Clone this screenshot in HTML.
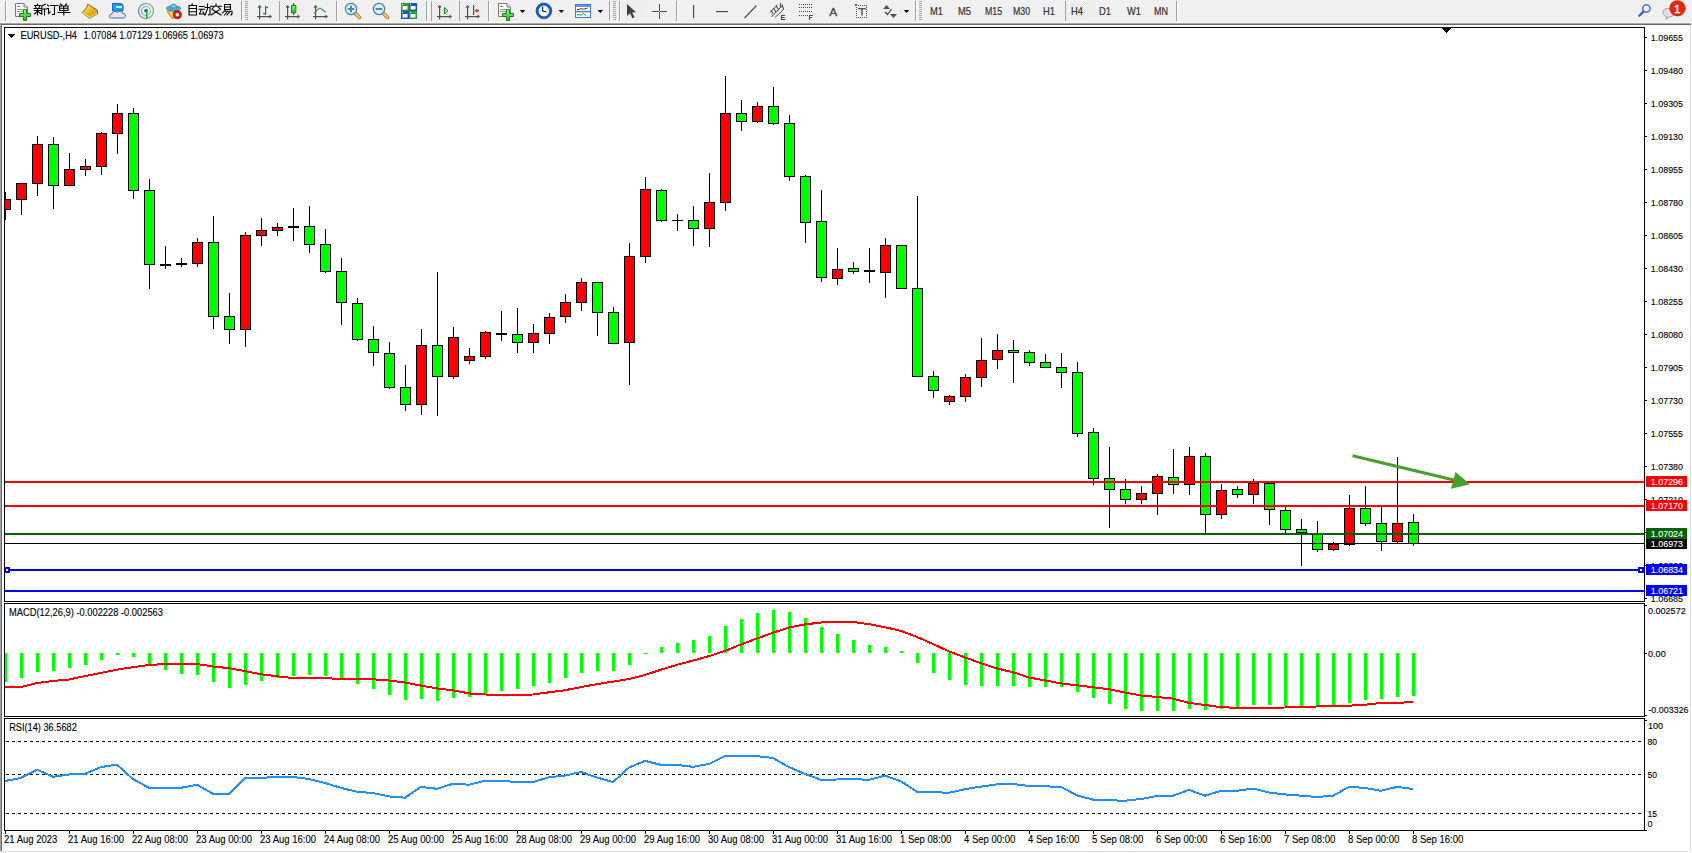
<!DOCTYPE html>
<html><head><meta charset="utf-8"><title>MT4</title>
<style>
html,body{margin:0;padding:0;width:1692px;height:853px;overflow:hidden;background:#fff}
svg{display:block}
text{font-family:"Liberation Sans",sans-serif}
</style></head><body>
<svg width="1692" height="853" viewBox="0 0 1692 853">
<rect x="0" y="0" width="1692" height="853" fill="#ffffff"/>
<rect x="0" y="0" width="1692" height="23" fill="#f0f0f0"/>
<rect x="0" y="22" width="1691" height="1" fill="#f7f7f7"/>
<rect x="0" y="23" width="1691" height="1" fill="#a8a8a8"/>
<rect x="0" y="24" width="1691" height="1" fill="#6a6a6a"/>
<rect x="0" y="23" width="1" height="828" fill="#a0a0a0"/>
<rect x="1" y="24" width="1" height="827" fill="#6a6a6a"/>
<rect x="1690" y="25" width="1" height="827" fill="#e3e3e3"/>
<rect x="0" y="851" width="1691" height="1" fill="#e3e3e3"/>
<g shape-rendering="crispEdges">
<clipPath id="cm"><rect x="5" y="28" width="1639" height="573"/></clipPath>
<clipPath id="cmacd"><rect x="5" y="604" width="1639" height="112"/></clipPath>
<clipPath id="crsi"><rect x="5" y="719" width="1639" height="111"/></clipPath>
<g clip-path="url(#cm)">
<rect x="5" y="192" width="1" height="28" fill="#000"/>
<rect x="0" y="199" width="11" height="11" fill="#000"/>
<rect x="1" y="200" width="9" height="9" fill="#ff0000"/>
<rect x="21" y="183" width="1" height="32" fill="#000"/>
<rect x="16" y="183" width="11" height="17" fill="#000"/>
<rect x="17" y="184" width="9" height="15" fill="#ff0000"/>
<rect x="37" y="136" width="1" height="60" fill="#000"/>
<rect x="32" y="144" width="11" height="40" fill="#000"/>
<rect x="33" y="145" width="9" height="38" fill="#ff0000"/>
<rect x="53" y="137" width="1" height="72" fill="#000"/>
<rect x="48" y="144" width="11" height="42" fill="#000"/>
<rect x="49" y="145" width="9" height="40" fill="#00ff00"/>
<rect x="69" y="153" width="1" height="33" fill="#000"/>
<rect x="64" y="169" width="11" height="17" fill="#000"/>
<rect x="65" y="170" width="9" height="15" fill="#ff0000"/>
<rect x="85" y="159" width="1" height="17" fill="#000"/>
<rect x="80" y="166" width="11" height="4" fill="#000"/>
<rect x="81" y="167" width="9" height="2" fill="#ff0000"/>
<rect x="101" y="132" width="1" height="43" fill="#000"/>
<rect x="96" y="133" width="11" height="34" fill="#000"/>
<rect x="97" y="134" width="9" height="32" fill="#ff0000"/>
<rect x="117" y="104" width="1" height="50" fill="#000"/>
<rect x="112" y="113" width="11" height="21" fill="#000"/>
<rect x="113" y="114" width="9" height="19" fill="#ff0000"/>
<rect x="133" y="108" width="1" height="91" fill="#000"/>
<rect x="128" y="113" width="11" height="78" fill="#000"/>
<rect x="129" y="114" width="9" height="76" fill="#00ff00"/>
<rect x="149" y="179" width="1" height="110" fill="#000"/>
<rect x="144" y="190" width="11" height="75" fill="#000"/>
<rect x="145" y="191" width="9" height="73" fill="#00ff00"/>
<rect x="165" y="246" width="1" height="23" fill="#000"/>
<rect x="160" y="264" width="11" height="2" fill="#000"/>
<rect x="181" y="258" width="1" height="9" fill="#000"/>
<rect x="176" y="263" width="11" height="2" fill="#000"/>
<rect x="197" y="238" width="1" height="29" fill="#000"/>
<rect x="192" y="242" width="11" height="22" fill="#000"/>
<rect x="193" y="243" width="9" height="20" fill="#ff0000"/>
<rect x="213" y="216" width="1" height="113" fill="#000"/>
<rect x="208" y="242" width="11" height="75" fill="#000"/>
<rect x="209" y="243" width="9" height="73" fill="#00ff00"/>
<rect x="229" y="293" width="1" height="51" fill="#000"/>
<rect x="224" y="316" width="11" height="14" fill="#000"/>
<rect x="225" y="317" width="9" height="12" fill="#00ff00"/>
<rect x="245" y="232" width="1" height="115" fill="#000"/>
<rect x="240" y="235" width="11" height="95" fill="#000"/>
<rect x="241" y="236" width="9" height="93" fill="#ff0000"/>
<rect x="261" y="218" width="1" height="28" fill="#000"/>
<rect x="256" y="230" width="11" height="6" fill="#000"/>
<rect x="257" y="231" width="9" height="4" fill="#ff0000"/>
<rect x="277" y="223" width="1" height="13" fill="#000"/>
<rect x="272" y="227" width="11" height="4" fill="#000"/>
<rect x="273" y="228" width="9" height="2" fill="#ff0000"/>
<rect x="293" y="208" width="1" height="33" fill="#000"/>
<rect x="288" y="226" width="11" height="2" fill="#000"/>
<rect x="309" y="206" width="1" height="47" fill="#000"/>
<rect x="304" y="226" width="11" height="19" fill="#000"/>
<rect x="305" y="227" width="9" height="17" fill="#00ff00"/>
<rect x="325" y="229" width="1" height="44" fill="#000"/>
<rect x="320" y="244" width="11" height="28" fill="#000"/>
<rect x="321" y="245" width="9" height="26" fill="#00ff00"/>
<rect x="341" y="258" width="1" height="67" fill="#000"/>
<rect x="336" y="271" width="11" height="32" fill="#000"/>
<rect x="337" y="272" width="9" height="30" fill="#00ff00"/>
<rect x="357" y="298" width="1" height="43" fill="#000"/>
<rect x="352" y="303" width="11" height="37" fill="#000"/>
<rect x="353" y="304" width="9" height="35" fill="#00ff00"/>
<rect x="373" y="326" width="1" height="40" fill="#000"/>
<rect x="368" y="339" width="11" height="14" fill="#000"/>
<rect x="369" y="340" width="9" height="12" fill="#00ff00"/>
<rect x="389" y="342" width="1" height="47" fill="#000"/>
<rect x="384" y="353" width="11" height="35" fill="#000"/>
<rect x="385" y="354" width="9" height="33" fill="#00ff00"/>
<rect x="405" y="365" width="1" height="46" fill="#000"/>
<rect x="400" y="387" width="11" height="18" fill="#000"/>
<rect x="401" y="388" width="9" height="16" fill="#00ff00"/>
<rect x="421" y="329" width="1" height="86" fill="#000"/>
<rect x="416" y="345" width="11" height="60" fill="#000"/>
<rect x="417" y="346" width="9" height="58" fill="#ff0000"/>
<rect x="437" y="272" width="1" height="144" fill="#000"/>
<rect x="432" y="345" width="11" height="32" fill="#000"/>
<rect x="433" y="346" width="9" height="30" fill="#00ff00"/>
<rect x="453" y="327" width="1" height="52" fill="#000"/>
<rect x="448" y="337" width="11" height="40" fill="#000"/>
<rect x="449" y="338" width="9" height="38" fill="#ff0000"/>
<rect x="469" y="348" width="1" height="16" fill="#000"/>
<rect x="464" y="356" width="11" height="5" fill="#000"/>
<rect x="465" y="357" width="9" height="3" fill="#ff0000"/>
<rect x="485" y="331" width="1" height="28" fill="#000"/>
<rect x="480" y="332" width="11" height="25" fill="#000"/>
<rect x="481" y="333" width="9" height="23" fill="#ff0000"/>
<rect x="501" y="311" width="1" height="30" fill="#000"/>
<rect x="496" y="333" width="11" height="2" fill="#000"/>
<rect x="517" y="308" width="1" height="45" fill="#000"/>
<rect x="512" y="334" width="11" height="9" fill="#000"/>
<rect x="513" y="335" width="9" height="7" fill="#00ff00"/>
<rect x="533" y="324" width="1" height="29" fill="#000"/>
<rect x="528" y="333" width="11" height="10" fill="#000"/>
<rect x="529" y="334" width="9" height="8" fill="#ff0000"/>
<rect x="549" y="313" width="1" height="31" fill="#000"/>
<rect x="544" y="317" width="11" height="17" fill="#000"/>
<rect x="545" y="318" width="9" height="15" fill="#ff0000"/>
<rect x="565" y="294" width="1" height="29" fill="#000"/>
<rect x="560" y="302" width="11" height="15" fill="#000"/>
<rect x="561" y="303" width="9" height="13" fill="#ff0000"/>
<rect x="581" y="278" width="1" height="33" fill="#000"/>
<rect x="576" y="282" width="11" height="21" fill="#000"/>
<rect x="577" y="283" width="9" height="19" fill="#ff0000"/>
<rect x="597" y="282" width="1" height="54" fill="#000"/>
<rect x="592" y="282" width="11" height="31" fill="#000"/>
<rect x="593" y="283" width="9" height="29" fill="#00ff00"/>
<rect x="613" y="307" width="1" height="37" fill="#000"/>
<rect x="608" y="312" width="11" height="32" fill="#000"/>
<rect x="609" y="313" width="9" height="30" fill="#00ff00"/>
<rect x="629" y="243" width="1" height="142" fill="#000"/>
<rect x="624" y="256" width="11" height="87" fill="#000"/>
<rect x="625" y="257" width="9" height="85" fill="#ff0000"/>
<rect x="645" y="177" width="1" height="86" fill="#000"/>
<rect x="640" y="189" width="11" height="68" fill="#000"/>
<rect x="641" y="190" width="9" height="66" fill="#ff0000"/>
<rect x="661" y="189" width="1" height="33" fill="#000"/>
<rect x="656" y="190" width="11" height="31" fill="#000"/>
<rect x="657" y="191" width="9" height="29" fill="#00ff00"/>
<rect x="677" y="214" width="1" height="17" fill="#000"/>
<rect x="672" y="220" width="11" height="1" fill="#000"/>
<rect x="693" y="206" width="1" height="40" fill="#000"/>
<rect x="688" y="220" width="11" height="9" fill="#000"/>
<rect x="689" y="221" width="9" height="7" fill="#00ff00"/>
<rect x="709" y="173" width="1" height="74" fill="#000"/>
<rect x="704" y="202" width="11" height="27" fill="#000"/>
<rect x="705" y="203" width="9" height="25" fill="#ff0000"/>
<rect x="725" y="76" width="1" height="135" fill="#000"/>
<rect x="720" y="113" width="11" height="90" fill="#000"/>
<rect x="721" y="114" width="9" height="88" fill="#ff0000"/>
<rect x="741" y="100" width="1" height="31" fill="#000"/>
<rect x="736" y="113" width="11" height="9" fill="#000"/>
<rect x="737" y="114" width="9" height="7" fill="#00ff00"/>
<rect x="757" y="102" width="1" height="21" fill="#000"/>
<rect x="752" y="106" width="11" height="16" fill="#000"/>
<rect x="753" y="107" width="9" height="14" fill="#ff0000"/>
<rect x="773" y="87" width="1" height="38" fill="#000"/>
<rect x="768" y="106" width="11" height="18" fill="#000"/>
<rect x="769" y="107" width="9" height="16" fill="#00ff00"/>
<rect x="789" y="115" width="1" height="66" fill="#000"/>
<rect x="784" y="123" width="11" height="54" fill="#000"/>
<rect x="785" y="124" width="9" height="52" fill="#00ff00"/>
<rect x="805" y="175" width="1" height="68" fill="#000"/>
<rect x="800" y="176" width="11" height="47" fill="#000"/>
<rect x="801" y="177" width="9" height="45" fill="#00ff00"/>
<rect x="821" y="190" width="1" height="92" fill="#000"/>
<rect x="816" y="221" width="11" height="57" fill="#000"/>
<rect x="817" y="222" width="9" height="55" fill="#00ff00"/>
<rect x="837" y="248" width="1" height="37" fill="#000"/>
<rect x="832" y="269" width="11" height="10" fill="#000"/>
<rect x="833" y="270" width="9" height="8" fill="#ff0000"/>
<rect x="853" y="262" width="1" height="12" fill="#000"/>
<rect x="848" y="268" width="11" height="4" fill="#000"/>
<rect x="849" y="269" width="9" height="2" fill="#00ff00"/>
<rect x="869" y="248" width="1" height="35" fill="#000"/>
<rect x="864" y="270" width="11" height="2" fill="#000"/>
<rect x="885" y="238" width="1" height="60" fill="#000"/>
<rect x="880" y="245" width="11" height="28" fill="#000"/>
<rect x="881" y="246" width="9" height="26" fill="#ff0000"/>
<rect x="901" y="245" width="1" height="44" fill="#000"/>
<rect x="896" y="245" width="11" height="44" fill="#000"/>
<rect x="897" y="246" width="9" height="42" fill="#00ff00"/>
<rect x="917" y="196" width="1" height="181" fill="#000"/>
<rect x="912" y="288" width="11" height="89" fill="#000"/>
<rect x="913" y="289" width="9" height="87" fill="#00ff00"/>
<rect x="933" y="371" width="1" height="27" fill="#000"/>
<rect x="928" y="376" width="11" height="15" fill="#000"/>
<rect x="929" y="377" width="9" height="13" fill="#00ff00"/>
<rect x="949" y="395" width="1" height="10" fill="#000"/>
<rect x="944" y="396" width="11" height="6" fill="#000"/>
<rect x="945" y="397" width="9" height="4" fill="#ff0000"/>
<rect x="965" y="374" width="1" height="28" fill="#000"/>
<rect x="960" y="377" width="11" height="20" fill="#000"/>
<rect x="961" y="378" width="9" height="18" fill="#ff0000"/>
<rect x="981" y="338" width="1" height="49" fill="#000"/>
<rect x="976" y="360" width="11" height="18" fill="#000"/>
<rect x="977" y="361" width="9" height="16" fill="#ff0000"/>
<rect x="997" y="334" width="1" height="35" fill="#000"/>
<rect x="992" y="350" width="11" height="10" fill="#000"/>
<rect x="993" y="351" width="9" height="8" fill="#ff0000"/>
<rect x="1013" y="340" width="1" height="43" fill="#000"/>
<rect x="1008" y="350" width="11" height="3" fill="#000"/>
<rect x="1009" y="351" width="9" height="1" fill="#00ff00"/>
<rect x="1029" y="350" width="1" height="16" fill="#000"/>
<rect x="1024" y="352" width="11" height="11" fill="#000"/>
<rect x="1025" y="353" width="9" height="9" fill="#00ff00"/>
<rect x="1045" y="354" width="1" height="14" fill="#000"/>
<rect x="1040" y="362" width="11" height="6" fill="#000"/>
<rect x="1041" y="363" width="9" height="4" fill="#00ff00"/>
<rect x="1061" y="353" width="1" height="35" fill="#000"/>
<rect x="1056" y="367" width="11" height="6" fill="#000"/>
<rect x="1057" y="368" width="9" height="4" fill="#00ff00"/>
<rect x="1077" y="362" width="1" height="75" fill="#000"/>
<rect x="1072" y="372" width="11" height="62" fill="#000"/>
<rect x="1073" y="373" width="9" height="60" fill="#00ff00"/>
<rect x="1093" y="428" width="1" height="57" fill="#000"/>
<rect x="1088" y="432" width="11" height="47" fill="#000"/>
<rect x="1089" y="433" width="9" height="45" fill="#00ff00"/>
<rect x="1109" y="447" width="1" height="81" fill="#000"/>
<rect x="1104" y="478" width="11" height="12" fill="#000"/>
<rect x="1105" y="479" width="9" height="10" fill="#00ff00"/>
<rect x="1125" y="479" width="1" height="25" fill="#000"/>
<rect x="1120" y="489" width="11" height="11" fill="#000"/>
<rect x="1121" y="490" width="9" height="9" fill="#00ff00"/>
<rect x="1141" y="486" width="1" height="18" fill="#000"/>
<rect x="1136" y="493" width="11" height="7" fill="#000"/>
<rect x="1137" y="494" width="9" height="5" fill="#ff0000"/>
<rect x="1157" y="474" width="1" height="41" fill="#000"/>
<rect x="1152" y="476" width="11" height="18" fill="#000"/>
<rect x="1153" y="477" width="9" height="16" fill="#ff0000"/>
<rect x="1173" y="449" width="1" height="45" fill="#000"/>
<rect x="1168" y="477" width="11" height="8" fill="#000"/>
<rect x="1169" y="478" width="9" height="6" fill="#00ff00"/>
<rect x="1189" y="447" width="1" height="48" fill="#000"/>
<rect x="1184" y="456" width="11" height="29" fill="#000"/>
<rect x="1185" y="457" width="9" height="27" fill="#ff0000"/>
<rect x="1205" y="453" width="1" height="81" fill="#000"/>
<rect x="1200" y="456" width="11" height="59" fill="#000"/>
<rect x="1201" y="457" width="9" height="57" fill="#00ff00"/>
<rect x="1221" y="484" width="1" height="35" fill="#000"/>
<rect x="1216" y="490" width="11" height="25" fill="#000"/>
<rect x="1217" y="491" width="9" height="23" fill="#ff0000"/>
<rect x="1237" y="486" width="1" height="12" fill="#000"/>
<rect x="1232" y="489" width="11" height="6" fill="#000"/>
<rect x="1233" y="490" width="9" height="4" fill="#00ff00"/>
<rect x="1253" y="479" width="1" height="25" fill="#000"/>
<rect x="1248" y="483" width="11" height="12" fill="#000"/>
<rect x="1249" y="484" width="9" height="10" fill="#ff0000"/>
<rect x="1269" y="483" width="1" height="42" fill="#000"/>
<rect x="1264" y="483" width="11" height="27" fill="#000"/>
<rect x="1265" y="484" width="9" height="25" fill="#00ff00"/>
<rect x="1285" y="507" width="1" height="26" fill="#000"/>
<rect x="1280" y="510" width="11" height="20" fill="#000"/>
<rect x="1281" y="511" width="9" height="18" fill="#00ff00"/>
<rect x="1301" y="519" width="1" height="47" fill="#000"/>
<rect x="1296" y="529" width="11" height="4" fill="#000"/>
<rect x="1297" y="530" width="9" height="2" fill="#00ff00"/>
<rect x="1317" y="521" width="1" height="31" fill="#000"/>
<rect x="1312" y="534" width="11" height="16" fill="#000"/>
<rect x="1313" y="535" width="9" height="14" fill="#00ff00"/>
<rect x="1333" y="542" width="1" height="9" fill="#000"/>
<rect x="1328" y="544" width="11" height="6" fill="#000"/>
<rect x="1329" y="545" width="9" height="4" fill="#ff0000"/>
<rect x="1349" y="495" width="1" height="51" fill="#000"/>
<rect x="1344" y="508" width="11" height="37" fill="#000"/>
<rect x="1345" y="509" width="9" height="35" fill="#ff0000"/>
<rect x="1365" y="486" width="1" height="40" fill="#000"/>
<rect x="1360" y="508" width="11" height="16" fill="#000"/>
<rect x="1361" y="509" width="9" height="14" fill="#00ff00"/>
<rect x="1381" y="507" width="1" height="44" fill="#000"/>
<rect x="1376" y="523" width="11" height="19" fill="#000"/>
<rect x="1377" y="524" width="9" height="17" fill="#00ff00"/>
<rect x="1397" y="457" width="1" height="87" fill="#000"/>
<rect x="1392" y="523" width="11" height="19" fill="#000"/>
<rect x="1393" y="524" width="9" height="17" fill="#ff0000"/>
<rect x="1413" y="514" width="1" height="32" fill="#000"/>
<rect x="1408" y="522" width="11" height="22" fill="#000"/>
<rect x="1409" y="523" width="9" height="20" fill="#00ff00"/>
<rect x="5" y="481" width="1639" height="2" fill="#ff0000"/>
<rect x="5" y="505" width="1639" height="2" fill="#ff0000"/>
<rect x="5" y="533" width="1639" height="2" fill="#006400"/>
<rect x="5" y="543" width="1639" height="1" fill="#000000"/>
<rect x="5" y="569" width="1639" height="2" fill="#0000ff"/>
<rect x="5" y="590" width="1639" height="2" fill="#0000ff"/>
<rect x="4" y="567" width="6" height="6" fill="#0000ff"/>
<rect x="6" y="569" width="2" height="2" fill="#ffffff"/>
<rect x="1638" y="567" width="6" height="6" fill="#0000ff"/>
<rect x="1640" y="569" width="2" height="2" fill="#ffffff"/>
</g>
<g shape-rendering="crispEdges">
<rect x="1442" y="28" width="9" height="1" fill="#000"/>
<rect x="1443" y="29" width="7" height="1" fill="#000"/>
<rect x="1444" y="30" width="5" height="1" fill="#000"/>
<rect x="1445" y="31" width="3" height="1" fill="#000"/>
<rect x="1446" y="32" width="1" height="1" fill="#000"/>
</g>
<rect x="4" y="27" width="1641" height="1" fill="#000"/>
<rect x="4" y="601" width="1641" height="1" fill="#000"/>
<rect x="4" y="27" width="1" height="575" fill="#000"/>
<rect x="1644" y="27" width="1" height="575" fill="#000"/>
<rect x="4" y="603" width="1641" height="1" fill="#000"/>
<rect x="4" y="716" width="1641" height="1" fill="#000"/>
<rect x="4" y="603" width="1" height="114" fill="#000"/>
<rect x="1644" y="603" width="1" height="114" fill="#000"/>
<rect x="4" y="718" width="1641" height="1" fill="#000"/>
<rect x="4" y="830" width="1641" height="1" fill="#000"/>
<rect x="4" y="718" width="1" height="113" fill="#000"/>
<rect x="1644" y="718" width="1" height="113" fill="#000"/>
</g>
<rect x="1645" y="37" width="2" height="1" fill="#000"/>
<text x="1650.8" y="41" font-size="9.8" fill="#000" stroke="#000" stroke-width="0.12" textLength="32.2" lengthAdjust="spacingAndGlyphs">1.09655</text>
<rect x="1645" y="70" width="2" height="1" fill="#000"/>
<text x="1650.8" y="74" font-size="9.8" fill="#000" stroke="#000" stroke-width="0.12" textLength="32.2" lengthAdjust="spacingAndGlyphs">1.09480</text>
<rect x="1645" y="103" width="2" height="1" fill="#000"/>
<text x="1650.8" y="107" font-size="9.8" fill="#000" stroke="#000" stroke-width="0.12" textLength="32.2" lengthAdjust="spacingAndGlyphs">1.09305</text>
<rect x="1645" y="136" width="2" height="1" fill="#000"/>
<text x="1650.8" y="140" font-size="9.8" fill="#000" stroke="#000" stroke-width="0.12" textLength="32.2" lengthAdjust="spacingAndGlyphs">1.09130</text>
<rect x="1645" y="169" width="2" height="1" fill="#000"/>
<text x="1650.8" y="173" font-size="9.8" fill="#000" stroke="#000" stroke-width="0.12" textLength="32.2" lengthAdjust="spacingAndGlyphs">1.08955</text>
<rect x="1645" y="202" width="2" height="1" fill="#000"/>
<text x="1650.8" y="206" font-size="9.8" fill="#000" stroke="#000" stroke-width="0.12" textLength="32.2" lengthAdjust="spacingAndGlyphs">1.08780</text>
<rect x="1645" y="235" width="2" height="1" fill="#000"/>
<text x="1650.8" y="239" font-size="9.8" fill="#000" stroke="#000" stroke-width="0.12" textLength="32.2" lengthAdjust="spacingAndGlyphs">1.08605</text>
<rect x="1645" y="268" width="2" height="1" fill="#000"/>
<text x="1650.8" y="272" font-size="9.8" fill="#000" stroke="#000" stroke-width="0.12" textLength="32.2" lengthAdjust="spacingAndGlyphs">1.08430</text>
<rect x="1645" y="301" width="2" height="1" fill="#000"/>
<text x="1650.8" y="305" font-size="9.8" fill="#000" stroke="#000" stroke-width="0.12" textLength="32.2" lengthAdjust="spacingAndGlyphs">1.08255</text>
<rect x="1645" y="334" width="2" height="1" fill="#000"/>
<text x="1650.8" y="338" font-size="9.8" fill="#000" stroke="#000" stroke-width="0.12" textLength="32.2" lengthAdjust="spacingAndGlyphs">1.08080</text>
<rect x="1645" y="367" width="2" height="1" fill="#000"/>
<text x="1650.8" y="371" font-size="9.8" fill="#000" stroke="#000" stroke-width="0.12" textLength="32.2" lengthAdjust="spacingAndGlyphs">1.07905</text>
<rect x="1645" y="400" width="2" height="1" fill="#000"/>
<text x="1650.8" y="404" font-size="9.8" fill="#000" stroke="#000" stroke-width="0.12" textLength="32.2" lengthAdjust="spacingAndGlyphs">1.07730</text>
<rect x="1645" y="433" width="2" height="1" fill="#000"/>
<text x="1650.8" y="437" font-size="9.8" fill="#000" stroke="#000" stroke-width="0.12" textLength="32.2" lengthAdjust="spacingAndGlyphs">1.07555</text>
<rect x="1645" y="466" width="2" height="1" fill="#000"/>
<text x="1650.8" y="470" font-size="9.8" fill="#000" stroke="#000" stroke-width="0.12" textLength="32.2" lengthAdjust="spacingAndGlyphs">1.07380</text>
<rect x="1645" y="499" width="2" height="1" fill="#000"/>
<text x="1650.8" y="503" font-size="9.8" fill="#000" stroke="#000" stroke-width="0.12" textLength="32.2" lengthAdjust="spacingAndGlyphs">1.07210</text>
<rect x="1645" y="532" width="2" height="1" fill="#000"/>
<text x="1650.8" y="536" font-size="9.8" fill="#000" stroke="#000" stroke-width="0.12" textLength="32.2" lengthAdjust="spacingAndGlyphs">1.07035</text>
<rect x="1645" y="565" width="2" height="1" fill="#000"/>
<text x="1650.8" y="569" font-size="9.8" fill="#000" stroke="#000" stroke-width="0.12" textLength="32.2" lengthAdjust="spacingAndGlyphs">1.06860</text>
<rect x="1645" y="598" width="2" height="1" fill="#000"/>
<text x="1650.8" y="602" font-size="9.8" fill="#000" stroke="#000" stroke-width="0.12" textLength="32.2" lengthAdjust="spacingAndGlyphs">1.06685</text>
<rect x="1646" y="476" width="41" height="11" fill="#ff0000"/>
<text x="1650.8" y="485" font-size="9.8" fill="#fff" stroke="#fff" stroke-width="0.12" textLength="32.2" lengthAdjust="spacingAndGlyphs">1.07296</text>
<rect x="1646" y="500" width="41" height="11" fill="#ff0000"/>
<text x="1650.8" y="509" font-size="9.8" fill="#fff" stroke="#fff" stroke-width="0.12" textLength="32.2" lengthAdjust="spacingAndGlyphs">1.07170</text>
<rect x="1646" y="528" width="41" height="11" fill="#006400"/>
<text x="1650.8" y="537" font-size="9.8" fill="#fff" stroke="#fff" stroke-width="0.12" textLength="32.2" lengthAdjust="spacingAndGlyphs">1.07024</text>
<rect x="1646" y="539" width="41" height="10" fill="#000"/>
<text x="1650.8" y="547" font-size="9.8" fill="#fff" stroke="#fff" stroke-width="0.12" textLength="32.2" lengthAdjust="spacingAndGlyphs">1.06973</text>
<rect x="1646" y="564" width="41" height="11" fill="#0000ff"/>
<text x="1650.8" y="573" font-size="9.8" fill="#fff" stroke="#fff" stroke-width="0.12" textLength="32.2" lengthAdjust="spacingAndGlyphs">1.06834</text>
<rect x="1646" y="585" width="41" height="11" fill="#0000ff"/>
<text x="1650.8" y="594" font-size="9.8" fill="#fff" stroke="#fff" stroke-width="0.12" textLength="32.2" lengthAdjust="spacingAndGlyphs">1.06721</text>
<g shape-rendering="crispEdges">
<rect x="8" y="34" width="7" height="1" fill="#000"/>
<rect x="9" y="35" width="5" height="1" fill="#000"/>
<rect x="10" y="36" width="3" height="1" fill="#000"/>
<rect x="11" y="37" width="1" height="1" fill="#000"/>
</g>
<text x="20.5" y="39" font-size="10.2" fill="#000" stroke="#000" stroke-width="0.12" textLength="56.5" lengthAdjust="spacingAndGlyphs">EURUSD-,H4</text>
<text x="83.5" y="39" font-size="10.2" fill="#000" stroke="#000" stroke-width="0.12" textLength="140.0" lengthAdjust="spacingAndGlyphs">1.07084 1.07129 1.06965 1.06973</text>
<g fill="#4a9e2a" stroke="none">
<line x1="1352.5" y1="455.8" x2="1458" y2="481" stroke="#4a9e2a" stroke-width="3"/>
<path d="M1455.5 472 L1470 484.3 L1451 488.7 Z"/>
</g>
<g clip-path="url(#cmacd)" shape-rendering="crispEdges">
<rect x="4" y="653" width="3" height="29" fill="#00ff00"/>
<rect x="20" y="653" width="3" height="25" fill="#00ff00"/>
<rect x="36" y="653" width="3" height="19" fill="#00ff00"/>
<rect x="52" y="653" width="3" height="18" fill="#00ff00"/>
<rect x="68" y="653" width="3" height="15" fill="#00ff00"/>
<rect x="84" y="653" width="3" height="12" fill="#00ff00"/>
<rect x="100" y="653" width="3" height="7" fill="#00ff00"/>
<rect x="116" y="653" width="3" height="2" fill="#00ff00"/>
<rect x="132" y="653" width="3" height="4" fill="#00ff00"/>
<rect x="148" y="653" width="3" height="11" fill="#00ff00"/>
<rect x="164" y="653" width="3" height="17" fill="#00ff00"/>
<rect x="180" y="653" width="3" height="21" fill="#00ff00"/>
<rect x="196" y="653" width="3" height="22" fill="#00ff00"/>
<rect x="212" y="653" width="3" height="29" fill="#00ff00"/>
<rect x="228" y="653" width="3" height="35" fill="#00ff00"/>
<rect x="244" y="653" width="3" height="32" fill="#00ff00"/>
<rect x="260" y="653" width="3" height="28" fill="#00ff00"/>
<rect x="276" y="653" width="3" height="25" fill="#00ff00"/>
<rect x="292" y="653" width="3" height="23" fill="#00ff00"/>
<rect x="308" y="653" width="3" height="22" fill="#00ff00"/>
<rect x="324" y="653" width="3" height="23" fill="#00ff00"/>
<rect x="340" y="653" width="3" height="25" fill="#00ff00"/>
<rect x="356" y="653" width="3" height="31" fill="#00ff00"/>
<rect x="372" y="653" width="3" height="36" fill="#00ff00"/>
<rect x="388" y="653" width="3" height="42" fill="#00ff00"/>
<rect x="404" y="653" width="3" height="47" fill="#00ff00"/>
<rect x="420" y="653" width="3" height="46" fill="#00ff00"/>
<rect x="436" y="653" width="3" height="48" fill="#00ff00"/>
<rect x="452" y="653" width="3" height="45" fill="#00ff00"/>
<rect x="468" y="653" width="3" height="44" fill="#00ff00"/>
<rect x="484" y="653" width="3" height="41" fill="#00ff00"/>
<rect x="500" y="653" width="3" height="38" fill="#00ff00"/>
<rect x="516" y="653" width="3" height="36" fill="#00ff00"/>
<rect x="532" y="653" width="3" height="33" fill="#00ff00"/>
<rect x="548" y="653" width="3" height="30" fill="#00ff00"/>
<rect x="564" y="653" width="3" height="25" fill="#00ff00"/>
<rect x="580" y="653" width="3" height="20" fill="#00ff00"/>
<rect x="596" y="653" width="3" height="18" fill="#00ff00"/>
<rect x="612" y="653" width="3" height="18" fill="#00ff00"/>
<rect x="628" y="653" width="3" height="12" fill="#00ff00"/>
<rect x="644" y="653" width="3" height="1" fill="#00ff00"/>
<rect x="660" y="647" width="3" height="6" fill="#00ff00"/>
<rect x="676" y="643" width="3" height="10" fill="#00ff00"/>
<rect x="692" y="640" width="3" height="13" fill="#00ff00"/>
<rect x="708" y="636" width="3" height="17" fill="#00ff00"/>
<rect x="724" y="626" width="3" height="27" fill="#00ff00"/>
<rect x="740" y="619" width="3" height="34" fill="#00ff00"/>
<rect x="756" y="613" width="3" height="40" fill="#00ff00"/>
<rect x="772" y="610" width="3" height="43" fill="#00ff00"/>
<rect x="788" y="612" width="3" height="41" fill="#00ff00"/>
<rect x="804" y="618" width="3" height="35" fill="#00ff00"/>
<rect x="820" y="627" width="3" height="26" fill="#00ff00"/>
<rect x="836" y="634" width="3" height="19" fill="#00ff00"/>
<rect x="852" y="640" width="3" height="13" fill="#00ff00"/>
<rect x="868" y="645" width="3" height="8" fill="#00ff00"/>
<rect x="884" y="647" width="3" height="6" fill="#00ff00"/>
<rect x="900" y="651" width="3" height="2" fill="#00ff00"/>
<rect x="916" y="653" width="3" height="10" fill="#00ff00"/>
<rect x="932" y="653" width="3" height="20" fill="#00ff00"/>
<rect x="948" y="653" width="3" height="27" fill="#00ff00"/>
<rect x="964" y="653" width="3" height="32" fill="#00ff00"/>
<rect x="980" y="653" width="3" height="33" fill="#00ff00"/>
<rect x="996" y="653" width="3" height="33" fill="#00ff00"/>
<rect x="1012" y="653" width="3" height="33" fill="#00ff00"/>
<rect x="1028" y="653" width="3" height="34" fill="#00ff00"/>
<rect x="1044" y="653" width="3" height="34" fill="#00ff00"/>
<rect x="1060" y="653" width="3" height="34" fill="#00ff00"/>
<rect x="1076" y="653" width="3" height="39" fill="#00ff00"/>
<rect x="1092" y="653" width="3" height="45" fill="#00ff00"/>
<rect x="1108" y="653" width="3" height="51" fill="#00ff00"/>
<rect x="1124" y="653" width="3" height="56" fill="#00ff00"/>
<rect x="1140" y="653" width="3" height="58" fill="#00ff00"/>
<rect x="1156" y="653" width="3" height="58" fill="#00ff00"/>
<rect x="1172" y="653" width="3" height="58" fill="#00ff00"/>
<rect x="1188" y="653" width="3" height="56" fill="#00ff00"/>
<rect x="1204" y="653" width="3" height="57" fill="#00ff00"/>
<rect x="1220" y="653" width="3" height="56" fill="#00ff00"/>
<rect x="1236" y="653" width="3" height="54" fill="#00ff00"/>
<rect x="1252" y="653" width="3" height="52" fill="#00ff00"/>
<rect x="1268" y="653" width="3" height="52" fill="#00ff00"/>
<rect x="1284" y="653" width="3" height="53" fill="#00ff00"/>
<rect x="1300" y="653" width="3" height="53" fill="#00ff00"/>
<rect x="1316" y="653" width="3" height="53" fill="#00ff00"/>
<rect x="1332" y="653" width="3" height="52" fill="#00ff00"/>
<rect x="1348" y="653" width="3" height="50" fill="#00ff00"/>
<rect x="1364" y="653" width="3" height="47" fill="#00ff00"/>
<rect x="1380" y="653" width="3" height="46" fill="#00ff00"/>
<rect x="1396" y="653" width="3" height="44" fill="#00ff00"/>
<rect x="1412" y="653" width="3" height="43" fill="#00ff00"/>
</g>
<g clip-path="url(#cmacd)">
<polyline points="5,687 21,687 37,683 53,681 69,679.5 85,676 101,673 117,669.6 133,667.2 149,665 165,664 181,664 197,664 213,666.5 229,668.2 245,671.1 261,674.3 277,676.3 293,678 309,678 325,678.2 341,678.9 357,678.9 373,679.3 389,680.5 405,682.5 421,685.6 437,688.4 453,690.3 469,693.4 485,694.5 501,694.9 517,694.9 533,694.5 549,692.3 565,690.2 581,687.1 597,684.1 613,681.6 629,679.1 645,674.9 661,669.7 677,664.8 693,660.6 709,656.1 725,650.9 741,644.4 757,638.5 773,632.7 789,627.5 805,624.4 821,622.5 837,621.9 853,622 869,624.2 885,627.2 901,631 917,637 933,644 949,651.5 965,657.4 981,663.2 997,668.4 1013,672.3 1029,677.5 1045,680.4 1061,683.4 1077,685.3 1093,687.3 1109,689.2 1125,692.5 1141,695.5 1157,697 1173,698.6 1189,702.9 1205,705 1221,707.2 1237,707.8 1253,707.8 1269,707.8 1285,707.5 1301,706.8 1317,706.5 1333,705.9 1349,705.7 1365,704.8 1381,702.9 1397,702.9 1413,702" fill="none" stroke="#ff0000" stroke-width="2" shape-rendering="crispEdges"/>
</g>
<text x="9" y="616" font-size="10.2" fill="#000" stroke="#000" stroke-width="0.12" textLength="154.0" lengthAdjust="spacingAndGlyphs">MACD(12,26,9) -0.002228 -0.002563</text>
<rect x="1645" y="605" width="2" height="1" fill="#000"/>
<rect x="1645" y="653" width="2" height="1" fill="#000"/>
<rect x="1645" y="715" width="2" height="1" fill="#000"/>
<text x="1648" y="614" font-size="9.4" fill="#000" stroke="#000" stroke-width="0.12" textLength="37.7" lengthAdjust="spacingAndGlyphs">0.002572</text>
<text x="1648" y="657" font-size="9.4" fill="#000" stroke="#000" stroke-width="0.12" textLength="17.7" lengthAdjust="spacingAndGlyphs">0.00</text>
<text x="1648.4" y="713" font-size="9.4" fill="#000" stroke="#000" stroke-width="0.12" textLength="40.2" lengthAdjust="spacingAndGlyphs">-0.003326</text>
<g shape-rendering="crispEdges">
<line x1="6" y1="741.5" x2="1644" y2="741.5" stroke="#000" stroke-width="1" stroke-dasharray="3,3"/>
<line x1="6" y1="774.5" x2="1644" y2="774.5" stroke="#000" stroke-width="1" stroke-dasharray="3,3"/>
<line x1="6" y1="813.5" x2="1644" y2="813.5" stroke="#000" stroke-width="1" stroke-dasharray="3,3"/>
</g>
<g clip-path="url(#crsi)">
<polyline points="5,781 21,777.9 37,769.7 53,776.8 69,774.5 85,773.8 101,767 117,764.7 133,779.2 149,787.8 165,787.8 181,787.8 197,784.7 213,793.8 229,793.8 245,778.2 261,777.9 277,776.9 293,776.9 309,779.1 325,783 341,787.9 357,791.8 373,793.1 389,796.4 405,797.7 421,786.9 437,788.8 453,783.7 469,784.7 485,780.8 501,780.8 517,782.1 533,782.1 549,777.2 565,775.6 581,772 597,777.5 613,782.1 629,767.5 645,760.9 661,764.9 677,764.9 693,766.8 709,763.9 725,756.1 741,756.1 757,756.1 773,758 789,767.1 805,773.9 821,779.8 837,779.5 853,779.1 869,779.8 885,775.6 901,781.4 917,791.8 933,792.1 949,792.8 965,789.2 981,786.6 997,784.4 1013,784 1029,786 1045,786.3 1061,786.9 1077,795.4 1093,799.6 1109,800.3 1125,800.7 1141,799 1157,796 1173,795.7 1189,789.9 1205,795.7 1221,790.8 1237,790.8 1253,788.6 1269,792.5 1285,794.4 1301,795.7 1317,797 1333,795.7 1349,786.9 1365,787.9 1381,790.8 1397,786.9 1413,789" fill="none" stroke="#1e90ff" stroke-width="2" shape-rendering="crispEdges"/>
</g>
<text x="9.2" y="731" font-size="10.2" fill="#000" stroke="#000" stroke-width="0.12" textLength="67.6" lengthAdjust="spacingAndGlyphs">RSI(14) 36.5682</text>
<rect x="1645" y="720" width="2" height="1" fill="#000"/>
<rect x="1645" y="830" width="2" height="1" fill="#000"/>
<text x="1648" y="729" font-size="9.4" fill="#000" stroke="#000" stroke-width="0.12" textLength="15.0" lengthAdjust="spacingAndGlyphs">100</text>
<text x="1647.5" y="745" font-size="9.4" fill="#000" stroke="#000" stroke-width="0.12" textLength="9.5" lengthAdjust="spacingAndGlyphs">80</text>
<text x="1647.5" y="778" font-size="9.4" fill="#000" stroke="#000" stroke-width="0.12" textLength="9.5" lengthAdjust="spacingAndGlyphs">50</text>
<text x="1647.5" y="817" font-size="9.4" fill="#000" stroke="#000" stroke-width="0.12" textLength="9.5" lengthAdjust="spacingAndGlyphs">15</text>
<text x="1647.5" y="827" font-size="9.4" fill="#000" stroke="#000" stroke-width="0.12" textLength="5.0" lengthAdjust="spacingAndGlyphs">0</text>
<rect x="5" y="831" width="1" height="3" fill="#000"/>
<text x="4" y="843" font-size="10.2" fill="#000" stroke="#000" stroke-width="0.12" textLength="53.4" lengthAdjust="spacingAndGlyphs">21 Aug 2023</text>
<rect x="69" y="831" width="1" height="3" fill="#000"/>
<text x="68" y="843" font-size="10.2" fill="#000" stroke="#000" stroke-width="0.12" textLength="56.0" lengthAdjust="spacingAndGlyphs">21 Aug 16:00</text>
<rect x="133" y="831" width="1" height="3" fill="#000"/>
<text x="132" y="843" font-size="10.2" fill="#000" stroke="#000" stroke-width="0.12" textLength="56.0" lengthAdjust="spacingAndGlyphs">22 Aug 08:00</text>
<rect x="197" y="831" width="1" height="3" fill="#000"/>
<text x="196" y="843" font-size="10.2" fill="#000" stroke="#000" stroke-width="0.12" textLength="56.0" lengthAdjust="spacingAndGlyphs">23 Aug 00:00</text>
<rect x="261" y="831" width="1" height="3" fill="#000"/>
<text x="260" y="843" font-size="10.2" fill="#000" stroke="#000" stroke-width="0.12" textLength="56.0" lengthAdjust="spacingAndGlyphs">23 Aug 16:00</text>
<rect x="325" y="831" width="1" height="3" fill="#000"/>
<text x="324" y="843" font-size="10.2" fill="#000" stroke="#000" stroke-width="0.12" textLength="56.0" lengthAdjust="spacingAndGlyphs">24 Aug 08:00</text>
<rect x="389" y="831" width="1" height="3" fill="#000"/>
<text x="388" y="843" font-size="10.2" fill="#000" stroke="#000" stroke-width="0.12" textLength="56.0" lengthAdjust="spacingAndGlyphs">25 Aug 00:00</text>
<rect x="453" y="831" width="1" height="3" fill="#000"/>
<text x="452" y="843" font-size="10.2" fill="#000" stroke="#000" stroke-width="0.12" textLength="56.0" lengthAdjust="spacingAndGlyphs">25 Aug 16:00</text>
<rect x="517" y="831" width="1" height="3" fill="#000"/>
<text x="516" y="843" font-size="10.2" fill="#000" stroke="#000" stroke-width="0.12" textLength="56.0" lengthAdjust="spacingAndGlyphs">28 Aug 08:00</text>
<rect x="581" y="831" width="1" height="3" fill="#000"/>
<text x="580" y="843" font-size="10.2" fill="#000" stroke="#000" stroke-width="0.12" textLength="56.0" lengthAdjust="spacingAndGlyphs">29 Aug 00:00</text>
<rect x="645" y="831" width="1" height="3" fill="#000"/>
<text x="644" y="843" font-size="10.2" fill="#000" stroke="#000" stroke-width="0.12" textLength="56.0" lengthAdjust="spacingAndGlyphs">29 Aug 16:00</text>
<rect x="709" y="831" width="1" height="3" fill="#000"/>
<text x="708" y="843" font-size="10.2" fill="#000" stroke="#000" stroke-width="0.12" textLength="56.0" lengthAdjust="spacingAndGlyphs">30 Aug 08:00</text>
<rect x="773" y="831" width="1" height="3" fill="#000"/>
<text x="772" y="843" font-size="10.2" fill="#000" stroke="#000" stroke-width="0.12" textLength="56.0" lengthAdjust="spacingAndGlyphs">31 Aug 00:00</text>
<rect x="837" y="831" width="1" height="3" fill="#000"/>
<text x="836" y="843" font-size="10.2" fill="#000" stroke="#000" stroke-width="0.12" textLength="56.0" lengthAdjust="spacingAndGlyphs">31 Aug 16:00</text>
<rect x="901" y="831" width="1" height="3" fill="#000"/>
<text x="900" y="843" font-size="10.2" fill="#000" stroke="#000" stroke-width="0.12" textLength="51.3" lengthAdjust="spacingAndGlyphs">1 Sep 08:00</text>
<rect x="965" y="831" width="1" height="3" fill="#000"/>
<text x="964" y="843" font-size="10.2" fill="#000" stroke="#000" stroke-width="0.12" textLength="51.3" lengthAdjust="spacingAndGlyphs">4 Sep 00:00</text>
<rect x="1029" y="831" width="1" height="3" fill="#000"/>
<text x="1028" y="843" font-size="10.2" fill="#000" stroke="#000" stroke-width="0.12" textLength="51.3" lengthAdjust="spacingAndGlyphs">4 Sep 16:00</text>
<rect x="1093" y="831" width="1" height="3" fill="#000"/>
<text x="1092" y="843" font-size="10.2" fill="#000" stroke="#000" stroke-width="0.12" textLength="51.3" lengthAdjust="spacingAndGlyphs">5 Sep 08:00</text>
<rect x="1157" y="831" width="1" height="3" fill="#000"/>
<text x="1156" y="843" font-size="10.2" fill="#000" stroke="#000" stroke-width="0.12" textLength="51.3" lengthAdjust="spacingAndGlyphs">6 Sep 00:00</text>
<rect x="1221" y="831" width="1" height="3" fill="#000"/>
<text x="1220" y="843" font-size="10.2" fill="#000" stroke="#000" stroke-width="0.12" textLength="51.3" lengthAdjust="spacingAndGlyphs">6 Sep 16:00</text>
<rect x="1285" y="831" width="1" height="3" fill="#000"/>
<text x="1284" y="843" font-size="10.2" fill="#000" stroke="#000" stroke-width="0.12" textLength="51.3" lengthAdjust="spacingAndGlyphs">7 Sep 08:00</text>
<rect x="1349" y="831" width="1" height="3" fill="#000"/>
<text x="1348" y="843" font-size="10.2" fill="#000" stroke="#000" stroke-width="0.12" textLength="51.3" lengthAdjust="spacingAndGlyphs">8 Sep 00:00</text>
<rect x="1413" y="831" width="1" height="3" fill="#000"/>
<text x="1412" y="843" font-size="10.2" fill="#000" stroke="#000" stroke-width="0.12" textLength="51.3" lengthAdjust="spacingAndGlyphs">8 Sep 16:00</text>
<defs><pattern id="chk" width="2" height="2" patternUnits="userSpaceOnUse"><rect width="2" height="2" fill="#f6f6f6"/><rect width="1" height="1" fill="#e6e6e6"/><rect x="1" y="1" width="1" height="1" fill="#e6e6e6"/></pattern><linearGradient id="gplus" x1="0" y1="0" x2="0" y2="1"><stop offset="0" stop-color="#9af29a"/><stop offset="1" stop-color="#1cb51c"/></linearGradient><linearGradient id="ggold" x1="0" y1="0" x2="1" y2="1"><stop offset="0" stop-color="#fff39a"/><stop offset="0.5" stop-color="#e8b820"/><stop offset="1" stop-color="#c88a10"/></linearGradient><radialGradient id="gclock"><stop offset="0.6" stop-color="#ffffff"/><stop offset="1" stop-color="#e8f0f8"/></radialGradient></defs>
<g id="tb">
<rect x="5" y="1" width="1" height="20" fill="#a0a0a0"/><rect x="6" y="1" width="1" height="20" fill="#ffffff"/>
<path d="M15.5 3.5 H24 L27.5 7 V16.5 H15.5 Z" fill="#fdfdfd" stroke="#7a7a7a" stroke-width="1"/>
<path d="M24 3.5 V7 H27.5" fill="#e0e0e0" stroke="#7a7a7a" stroke-width="1"/>
<rect x="17" y="6" width="3" height="1" fill="#808080"/><rect x="17" y="9" width="6" height="1" fill="#9a9a9a"/><rect x="17" y="11" width="6" height="1" fill="#9a9a9a"/>
<path d="M23.5 9.5 h3 v4 h4 v3 h-4 v4 h-3 v-4 h-4 v-3 h4 Z" fill="url(#gplus)" stroke="#0e8a0e" stroke-width="1"/>
<path d="M37.5 4 V5.5 M34.5 5.5 H40.5 M35.5 6.5 L36 7.5 M39.5 6.5 L39 7.5 M34 8.5 H41 M34.5 10.5 H40.5 M37.5 8.5 V15 M37 11.5 L34.5 14 M38 11.5 L40.5 13.5 M45.5 4.3 L41.8 5.8 V14.5 M41.8 9 H46.5 M44.5 9 V15 M47.5 5 L48.5 6 M47.5 8.5 H48.5 V13.5 L50 12 M50.5 5.5 H58 M54.5 5.5 V14.5 H52.5 M60.5 4 L61.5 5 M66.5 4 L65.5 5 M59.5 6 H68 V10.5 H59.5 Z M59.5 8.2 H68 M58 12.5 H70 M63.8 6 V15" fill="none" stroke="#000" stroke-width="1.1" stroke-linecap="square"/>
<path d="M87.8 4.2 L96.9 10 L97.8 13.3 L89.8 18.3 L82.2 12.7 L86.6 7.7 Z" fill="url(#ggold)" stroke="#9a5a08" stroke-width="1"/>
<path d="M83 13 L90 17.5 L97 13" fill="none" stroke="#f4e0a0" stroke-width="1"/>
<path d="M112.5 3.5 H121 L123 5 V11 H112.5 Z" fill="#1a9af0" stroke="#0a6ad0" stroke-width="1"/>
<rect x="116" y="6" width="6" height="2" fill="#e8f4ff"/>
<path d="M111 18 C108.5 18 109 13.5 112 14 C112 11.5 116 10.5 117.5 12.5 C119 10.5 123 11.5 122.5 13.5 C126 13 126.5 18 123.5 18 Z" fill="#dfe6f0" stroke="#4a6aa0" stroke-width="1"/>
<g fill="none" stroke-width="1.2">
<path d="M146 3.5 A7.5 7.5 0 0 0 146 18.5" stroke="#5a82d0"/><path d="M146 3.5 A7.5 7.5 0 0 1 146 18.5" stroke="#70b070"/>
<path d="M146 6.5 A4.5 4.5 0 0 0 146 15.5" stroke="#7aa0e0"/><path d="M146 6.5 A4.5 4.5 0 0 1 146 15.5" stroke="#90c890"/>
</g>
<circle cx="146" cy="10.8" r="1.8" fill="#1a50c0"/>
<rect x="146" y="11" width="1.5" height="7.5" fill="#22aa22"/>
<path d="M167 11 L178 11 L177 17 L172 18.5 Z" fill="#f0d040" stroke="#c09010" stroke-width="1"/>
<ellipse cx="173.5" cy="8.3" rx="7.2" ry="2.3" fill="#5ab4e8" stroke="#2a84b8" stroke-width="1"/>
<path d="M170 8 C170 3 177 3 177 8 Z" fill="#7cc8f0" stroke="#2a84b8" stroke-width="1"/>
<circle cx="177.3" cy="14.7" r="4" fill="#dd2200" stroke="#aa1100" stroke-width="1"/>
<rect x="175.8" y="13.2" width="3" height="3" fill="#fff"/>
<path d="M192.5 4 L191.5 5.2 M189 5.5 H196.5 V15 H189 Z M189 8.5 H196.5 M189 11.8 H196.5 M199.5 6.5 H204 M199 9.2 H204.5 M201.5 9.2 L199.5 14 H204 M203 12 L204.5 14.5 M205 7.5 H210 V14 L208.5 15 M207.5 4 V9 L205 15 M216 4 V5.5 M210.5 6.2 H221.5 M213.5 7.5 L212 9.2 M218.5 7.5 L220.5 9.2 M213 10 L221 15 M219 10 L211 15 M224.5 4.5 H230.5 V9.5 H224.5 Z M224.5 7 H230.5 M225 10.5 L222.5 12.8 M225.5 11.2 H232 V14 L231 15 M227.5 11.5 L224.5 15 M230 11.5 L227 15" fill="none" stroke="#000" stroke-width="1.1" stroke-linecap="square"/>
<rect x="241" y="1" width="1" height="20" fill="#a0a0a0"/><rect x="242" y="1" width="1" height="20" fill="#ffffff"/>
<rect x="245" y="1" width="3" height="1" fill="#a8a8a8"/>
<rect x="245" y="3" width="3" height="1" fill="#a8a8a8"/>
<rect x="245" y="5" width="3" height="1" fill="#a8a8a8"/>
<rect x="245" y="7" width="3" height="1" fill="#a8a8a8"/>
<rect x="245" y="9" width="3" height="1" fill="#a8a8a8"/>
<rect x="245" y="11" width="3" height="1" fill="#a8a8a8"/>
<rect x="245" y="13" width="3" height="1" fill="#a8a8a8"/>
<rect x="245" y="15" width="3" height="1" fill="#a8a8a8"/>
<rect x="245" y="17" width="3" height="1" fill="#a8a8a8"/>
<rect x="245" y="19" width="3" height="1" fill="#a8a8a8"/>
<g fill="#505050"><rect x="259" y="6" width="1.2" height="13.5"/><rect x="257" y="16" width="13.5" height="1.2"/><path d="M257.4 7.6 L259.6 5 L261.8 7.6 Z"/><path d="M269.5 14.4 L272 16.6 L269.5 18.8 Z"/></g>
<g fill="#118811"><rect x="265" y="6" width="1.2" height="9"/><rect x="265" y="6.8" width="3" height="1.1"/><rect x="263" y="13" width="2.5" height="1.1"/></g>
<rect x="279" y="1" width="1" height="20" fill="#a0a0a0"/><rect x="280" y="1" width="1" height="20" fill="#ffffff"/>
<rect x="280" y="1" width="24" height="20" fill="url(#chk)"/>
<g fill="#505050"><rect x="287" y="6" width="1.2" height="13.5"/><rect x="285" y="16" width="13.5" height="1.2"/><path d="M285.4 7.6 L287.6 5 L289.8 7.6 Z"/><path d="M297.5 14.4 L300 16.6 L297.5 18.8 Z"/></g>
<rect x="293" y="3" width="1.2" height="12" fill="#118811"/>
<rect x="291.5" y="5.5" width="4.3" height="7.3" fill="url(#gplus)" stroke="#0e8a0e" stroke-width="1"/>
<g fill="#505050"><rect x="315" y="6" width="1.2" height="13.5"/><rect x="313" y="16" width="13.5" height="1.2"/><path d="M313.4 7.6 L315.6 5 L317.8 7.6 Z"/><path d="M325.5 14.4 L328 16.6 L325.5 18.8 Z"/></g>
<path d="M314 13.7 C316.5 10.5 318.5 7.8 320.5 8.3 C322.5 8.8 323.5 11.5 325.8 12.2" fill="none" stroke="#2a9a2a" stroke-width="1.1"/>
<rect x="336" y="1" width="1" height="20" fill="#a0a0a0"/><rect x="337" y="1" width="1" height="20" fill="#ffffff"/>
<path d="M354.5 12.5 L359.5 17.5" stroke="#a87010" stroke-width="3.4" stroke-linecap="round"/>
<path d="M354.5 12.5 L359.5 17.5" stroke="#f0d050" stroke-width="1.8" stroke-linecap="round"/>
<circle cx="351" cy="9" r="5.6" fill="#dff0ff" stroke="#3a7ec0" stroke-width="1.2"/>
<rect x="347.7" y="8" width="6.6" height="2" fill="#4a8aaa"/>
<rect x="350" y="5.7" width="2" height="6.6" fill="#4a8aaa"/>
<path d="M382.5 12.5 L387.5 17.5" stroke="#a87010" stroke-width="3.4" stroke-linecap="round"/>
<path d="M382.5 12.5 L387.5 17.5" stroke="#f0d050" stroke-width="1.8" stroke-linecap="round"/>
<circle cx="379" cy="9" r="5.6" fill="#dff0ff" stroke="#3a7ec0" stroke-width="1.2"/>
<rect x="375.7" y="8" width="6.6" height="2" fill="#4a8aaa"/>
<rect x="401" y="3" width="8" height="8" fill="#2aa02a"/><rect x="402.5" y="6" width="5" height="3.5" fill="#ffffff"/><rect x="402" y="4" width="1" height="1" fill="#ffffff"/>
<rect x="409" y="3" width="8" height="8" fill="#1a50d0"/><rect x="410.5" y="6" width="5" height="3.5" fill="#ffffff"/><rect x="410" y="4" width="1" height="1" fill="#ffffff"/>
<rect x="401" y="11" width="8" height="8" fill="#1a50d0"/><rect x="402.5" y="14" width="5" height="3.5" fill="#ffffff"/><rect x="402" y="12" width="1" height="1" fill="#ffffff"/>
<rect x="409" y="11" width="8" height="8" fill="#2aa02a"/><rect x="410.5" y="14" width="5" height="3.5" fill="#ffffff"/><rect x="410" y="12" width="1" height="1" fill="#ffffff"/>
<rect x="426" y="1" width="1" height="20" fill="#a0a0a0"/><rect x="427" y="1" width="1" height="20" fill="#ffffff"/>
<rect x="431" y="1" width="1" height="20" fill="#a0a0a0"/><rect x="432" y="1" width="1" height="20" fill="#ffffff"/>
<rect x="432" y="1" width="24" height="20" fill="url(#chk)"/>
<g fill="#505050"><rect x="439" y="6" width="1.2" height="13.5"/><rect x="437" y="16" width="13.5" height="1.2"/><path d="M437.4 7.6 L439.6 5 L441.8 7.6 Z"/><path d="M449.5 14.4 L452 16.6 L449.5 18.8 Z"/></g>
<path d="M444.5 7.5 L448 10.8 L444.5 14 Z" fill="#b0f0b0" stroke="#118811" stroke-width="1"/>
<rect x="459" y="1" width="1" height="20" fill="#a0a0a0"/><rect x="460" y="1" width="1" height="20" fill="#ffffff"/>
<rect x="460" y="1" width="24" height="20" fill="url(#chk)"/>
<g fill="#505050"><rect x="467" y="6" width="1.2" height="13.5"/><rect x="465" y="16" width="13.5" height="1.2"/><path d="M465.4 7.6 L467.6 5 L469.8 7.6 Z"/><path d="M477.5 14.4 L480 16.6 L477.5 18.8 Z"/></g>
<rect x="473" y="5" width="1.2" height="10" fill="#1a5aa0"/>
<path d="M474.5 10.7 L477.5 8.5 V10 H479 V11.4 H477.5 V13 Z" fill="#e04010"/>
<rect x="488" y="1" width="1" height="20" fill="#a0a0a0"/><rect x="489" y="1" width="1" height="20" fill="#ffffff"/>
<path d="M498.5 3.5 H507 L510.5 7 V16.5 H498.5 Z" fill="#fdfdfd" stroke="#7a7a7a" stroke-width="1"/>
<path d="M507 3.5 V7 H510.5" fill="#e0e0e0" stroke="#7a7a7a" stroke-width="1"/>
<rect x="500" y="6" width="3" height="1" fill="#808080"/><rect x="500" y="9" width="6" height="1" fill="#9a9a9a"/><rect x="500" y="11" width="6" height="1" fill="#9a9a9a"/>
<path d="M506.5 9.5 h3 v4 h4 v3 h-4 v4 h-3 v-4 h-4 v-3 h4 Z" fill="url(#gplus)" stroke="#0e8a0e" stroke-width="1"/>
<path d="M519.8 10 H525.3 L522.55 13 Z" fill="#000"/>
<circle cx="543.9" cy="10.9" r="6.6" fill="url(#gclock)" stroke="#1560c0" stroke-width="2.6"/>
<circle cx="543.9" cy="10.9" r="7.9" fill="none" stroke="#0a3a8a" stroke-width="0.6"/>
<path d="M542.6 6.5 V11 L546.5 12" fill="none" stroke="#111" stroke-width="1.1"/>
<g fill="#9ab"><rect x="543.5" y="15.5" width="1" height="1"/><rect x="539.5" y="10.5" width="1" height="1"/><rect x="547.5" y="10.5" width="1" height="1"/></g>
<path d="M558.6 10 H564.1 L561.35 13 Z" fill="#000"/>
<rect x="575.5" y="4.5" width="15" height="13" fill="#ffffff" stroke="#3a7acc" stroke-width="1"/>
<rect x="576" y="5" width="14" height="2" fill="#5a9ae0"/><rect x="576" y="11" width="14" height="1.3" fill="#3a7acc"/>
<path d="M577 9.5 L579 9.5 L581 8.5 L583 9.2 L585 8.8 L587.5 8" fill="none" stroke="#a02010" stroke-width="1"/>
<path d="M577 15.3 L579 14.5 L581 15.3 L583.5 13.5 L586 15.5" fill="none" stroke="#1a9a1a" stroke-width="1"/>
<path d="M597.6 10 H603.1 L600.35 13 Z" fill="#000"/>
<rect x="609" y="1" width="1" height="20" fill="#a0a0a0"/><rect x="610" y="1" width="1" height="20" fill="#ffffff"/>
<rect x="613" y="1" width="3" height="1" fill="#a8a8a8"/>
<rect x="613" y="3" width="3" height="1" fill="#a8a8a8"/>
<rect x="613" y="5" width="3" height="1" fill="#a8a8a8"/>
<rect x="613" y="7" width="3" height="1" fill="#a8a8a8"/>
<rect x="613" y="9" width="3" height="1" fill="#a8a8a8"/>
<rect x="613" y="11" width="3" height="1" fill="#a8a8a8"/>
<rect x="613" y="13" width="3" height="1" fill="#a8a8a8"/>
<rect x="613" y="15" width="3" height="1" fill="#a8a8a8"/>
<rect x="613" y="17" width="3" height="1" fill="#a8a8a8"/>
<rect x="613" y="19" width="3" height="1" fill="#a8a8a8"/>
<rect x="619" y="1" width="1" height="20" fill="#a0a0a0"/><rect x="620" y="1" width="1" height="20" fill="#ffffff"/>
<rect x="621" y="1" width="24" height="20" fill="url(#chk)"/>
<path d="M627 4 L627 16 L630 13.3 L632.4 18.2 L634.6 17.2 L632.2 12.5 L636 12.3 Z" fill="#404040"/>
<g fill="#505050"><rect x="659" y="4" width="1" height="15"/><rect x="652" y="11" width="15" height="1"/></g>
<rect x="659" y="11" width="1" height="1" fill="#f0f0f0"/>
<rect x="676" y="1" width="1" height="20" fill="#a0a0a0"/><rect x="677" y="1" width="1" height="20" fill="#ffffff"/>
<rect x="693" y="5" width="1.2" height="13" fill="#4a4a4a"/>
<rect x="716" y="11" width="12" height="1.2" fill="#4a4a4a"/>
<path d="M744.5 18 L756.5 5.5" stroke="#4a4a4a" stroke-width="1.1"/>
<g stroke="#4a4a4a" stroke-width="1" fill="none"><path d="M770 12.5 L777.5 4.8 M771.5 17 L781.8 6 M775 17.5 L784 9"/><path d="M771 10 L773 14 M773.5 8 L776 12.5 M776 5.5 L779 10.5 M780.5 3 L780.5 8 M782 4.5 L783.5 9" stroke-width="1.1"/></g>
<g fill="#4a4a4a"><path d="M781 15 h4 v1 h-3 v1 h2.5 v1 h-2.5 v1 h3 v1 h-4 Z"/></g>
<path d="M799 4.5 H812" stroke="#4a4a4a" stroke-width="1" stroke-dasharray="1,1"/>
<path d="M799 7.5 H812" stroke="#4a4a4a" stroke-width="1" stroke-dasharray="1,1"/>
<path d="M799 11.5 H812" stroke="#4a4a4a" stroke-width="1" stroke-dasharray="1,1"/>
<path d="M799 15.5 H808" stroke="#4a4a4a" stroke-width="1" stroke-dasharray="1,1"/>
<g fill="#4a4a4a" shape-rendering="crispEdges"><rect x="809" y="15" width="1" height="5"/><rect x="809" y="15" width="4" height="1"/><rect x="809" y="17" width="3" height="1"/></g>
<text x="829.3" y="15.5" font-size="11.8" fill="#4a4a4a" stroke="#4a4a4a" stroke-width="0.35" font-family="Liberation Sans" textLength="8" lengthAdjust="spacingAndGlyphs">A</text>
<rect x="856" y="5" width="1" height="1" fill="#555"/><rect x="856" y="17" width="1" height="1" fill="#555"/>
<rect x="858" y="5" width="1" height="1" fill="#555"/><rect x="858" y="17" width="1" height="1" fill="#555"/>
<rect x="860" y="5" width="1" height="1" fill="#555"/><rect x="860" y="17" width="1" height="1" fill="#555"/>
<rect x="862" y="5" width="1" height="1" fill="#555"/><rect x="862" y="17" width="1" height="1" fill="#555"/>
<rect x="864" y="5" width="1" height="1" fill="#555"/><rect x="864" y="17" width="1" height="1" fill="#555"/>
<rect x="866" y="5" width="1" height="1" fill="#555"/><rect x="866" y="17" width="1" height="1" fill="#555"/>
<rect x="856" y="7" width="1" height="1" fill="#555"/><rect x="866" y="7" width="1" height="1" fill="#555"/>
<rect x="856" y="9" width="1" height="1" fill="#555"/><rect x="866" y="9" width="1" height="1" fill="#555"/>
<rect x="856" y="11" width="1" height="1" fill="#555"/><rect x="866" y="11" width="1" height="1" fill="#555"/>
<rect x="856" y="13" width="1" height="1" fill="#555"/><rect x="866" y="13" width="1" height="1" fill="#555"/>
<rect x="856" y="15" width="1" height="1" fill="#555"/><rect x="866" y="15" width="1" height="1" fill="#555"/>
<rect x="855" y="4" width="2" height="2" fill="#555"/>
<g fill="#555"><rect x="858" y="8" width="8" height="1.3"/><rect x="861.3" y="8" width="1.5" height="7.5"/></g>
<g fill="#505050"><path d="M883 9 L886.5 5 L890 9 Z"/><path d="M890 14 L893.5 18 L897 14 Z"/></g>
<path d="M885 12 L887.5 14.5 L891.5 9" fill="none" stroke="#404040" stroke-width="1.2"/>
<path d="M903.8 10 H909.3 L906.55 13 Z" fill="#000"/>
<rect x="915" y="1" width="1" height="20" fill="#a0a0a0"/><rect x="916" y="1" width="1" height="20" fill="#ffffff"/>
<rect x="919" y="1" width="3" height="1" fill="#a8a8a8"/>
<rect x="919" y="3" width="3" height="1" fill="#a8a8a8"/>
<rect x="919" y="5" width="3" height="1" fill="#a8a8a8"/>
<rect x="919" y="7" width="3" height="1" fill="#a8a8a8"/>
<rect x="919" y="9" width="3" height="1" fill="#a8a8a8"/>
<rect x="919" y="11" width="3" height="1" fill="#a8a8a8"/>
<rect x="919" y="13" width="3" height="1" fill="#a8a8a8"/>
<rect x="919" y="15" width="3" height="1" fill="#a8a8a8"/>
<rect x="919" y="17" width="3" height="1" fill="#a8a8a8"/>
<rect x="919" y="19" width="3" height="1" fill="#a8a8a8"/>
<rect x="1065" y="1" width="1" height="20" fill="#a0a0a0"/><rect x="1066" y="1" width="1" height="20" fill="#ffffff"/>
<rect x="1066" y="1" width="24" height="20" fill="url(#chk)"/>
<rect x="1176" y="1" width="1" height="20" fill="#a0a0a0"/><rect x="1177" y="1" width="1" height="20" fill="#ffffff"/>
<text x="930" y="15.3" font-size="10.6" fill="#333" stroke="#333" stroke-width="0.2" font-family="Liberation Sans" textLength="13" lengthAdjust="spacingAndGlyphs">M1</text>
<text x="958" y="15.3" font-size="10.6" fill="#333" stroke="#333" stroke-width="0.2" font-family="Liberation Sans" textLength="13" lengthAdjust="spacingAndGlyphs">M5</text>
<text x="985" y="15.3" font-size="10.6" fill="#333" stroke="#333" stroke-width="0.2" font-family="Liberation Sans" textLength="17" lengthAdjust="spacingAndGlyphs">M15</text>
<text x="1013" y="15.3" font-size="10.6" fill="#333" stroke="#333" stroke-width="0.2" font-family="Liberation Sans" textLength="17" lengthAdjust="spacingAndGlyphs">M30</text>
<text x="1043" y="15.3" font-size="10.6" fill="#333" stroke="#333" stroke-width="0.2" font-family="Liberation Sans" textLength="12" lengthAdjust="spacingAndGlyphs">H1</text>
<text x="1071" y="15.3" font-size="10.6" fill="#333" stroke="#333" stroke-width="0.2" font-family="Liberation Sans" textLength="12" lengthAdjust="spacingAndGlyphs">H4</text>
<text x="1099" y="15.3" font-size="10.6" fill="#333" stroke="#333" stroke-width="0.2" font-family="Liberation Sans" textLength="12" lengthAdjust="spacingAndGlyphs">D1</text>
<text x="1127" y="15.3" font-size="10.6" fill="#333" stroke="#333" stroke-width="0.2" font-family="Liberation Sans" textLength="14" lengthAdjust="spacingAndGlyphs">W1</text>
<text x="1154" y="15.3" font-size="10.6" fill="#333" stroke="#333" stroke-width="0.2" font-family="Liberation Sans" textLength="14" lengthAdjust="spacingAndGlyphs">MN</text>
<path d="M1643.5 11.5 L1639.2 15.8" stroke="#2a5ad0" stroke-width="2.2" stroke-linecap="round"/>
<circle cx="1646.4" cy="8.5" r="3.7" fill="#f4f4ff" stroke="#2a5ad0" stroke-width="1.3"/>
<path d="M1667.5 8.5 C1663 8.5 1662 12.5 1663.5 14.5 C1664.5 16 1666 16.5 1667 16.5 L1666 19.3 L1669.5 16.8 C1673 16.8 1675 14.5 1674.5 12 C1674 9.5 1671 8.5 1667.5 8.5 Z" fill="#e0e0e8" stroke="#9a9a9a" stroke-width="0.9"/>
<circle cx="1677.4" cy="8.3" r="8.1" fill="#e02a10"/>
<text x="1674.3" y="13.4" font-size="11" fill="#fff" font-family="Liberation Serif" stroke="#fff" stroke-width="0.5" textLength="6" lengthAdjust="spacingAndGlyphs">1</text>
</g>
</svg>
</body></html>
